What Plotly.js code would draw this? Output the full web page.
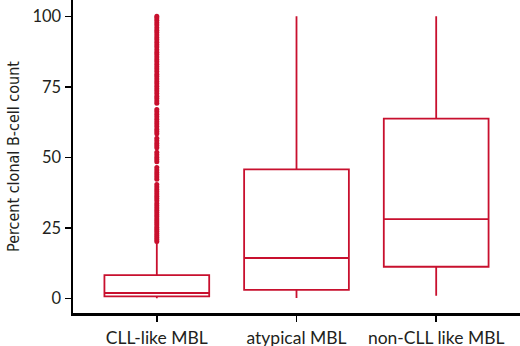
<!DOCTYPE html>
<html>
<head>
<meta charset="utf-8">
<script src="https://cdn.plot.ly/plotly-3.0.1.min.js"></script>
<style>
  html, body { margin: 0; padding: 0; background: #fff; }
  #chart { width: 520px; height: 346px; }
</style>
</head>
<body>
<div id="chart"></div>
<script>
// Groups of monoclonal B-cell lymphocytosis
const categories = ["CLL-like MBL", "atypical MBL", "non-CLL like MBL"];

// Box summary statistics (percent clonal B-cell count)
const lowerFence = [0.0, 0.1, 0.9];
const q1Values = [0.7, 3.0, 11.2];
const medianValues = [1.9, 14.3, 28.1];
const q3Values = [8.2, 45.7, 63.7];
const upperFence = [19.8, 100, 100];

// Outlying observations in the CLL-like MBL group
const cllOutliers = [
  20.2, 20.9, 21.6, 22.3, 23.0, 23.8, 24.5, 25.2, 26.0, 26.7, 27.4, 28.1,
  28.9, 29.6, 30.4, 31.2, 32.0, 32.8, 33.6, 34.6, 35.4, 36.2, 37.0, 37.8,
  38.6, 39.5, 40.4, 42.2, 43.0, 43.8, 44.6, 45.5, 46.4, 48.4, 49.2, 50.0,
  50.9, 51.8, 53.4, 54.2, 55.0, 55.9, 56.8, 58.4, 59.2, 60.0, 60.9, 61.8,
  62.6, 63.5, 64.4, 65.3, 66.2, 67.0, 69.2, 70.0, 70.9, 71.7, 72.6, 73.5,
  74.3, 75.2, 76.1, 76.9, 77.8, 78.7, 79.5, 80.4, 81.3, 82.1, 83.0, 83.9,
  84.7, 85.6, 86.5, 87.3, 88.2, 89.1, 89.9, 90.8, 91.7, 92.5, 93.4, 94.3,
  95.1, 96.0, 96.9, 97.7, 98.6, 99.4, 100.0
];

const red = "#c8102e";
const textColor = "#231f20";
const fontFamily = "Lato, 'Open Sans', sans-serif";
const narrowFamily = "'Liberation Sans Narrow', 'DejaVu Sans Condensed', sans-serif";

const boxTrace = {
  type: "box",
  x: categories,
  q1: q1Values,
  median: medianValues,
  q3: q3Values,
  lowerfence: lowerFence,
  upperfence: upperFence,
  boxpoints: false,
  width: 0.75,
  whiskerwidth: 0,
  line: { color: red, width: 1.8 },
  fillcolor: "rgba(255,255,255,0)",
  hoverinfo: "skip",
  showlegend: false
};

const outlierTrace = {
  type: "scatter",
  mode: "markers",
  x: cllOutliers.map(() => categories[0]),
  y: cllOutliers,
  marker: { color: red, size: 5 },
  hoverinfo: "skip",
  showlegend: false
};

const layout = {
  width: 520,
  height: 346,
  margin: { l: 73, r: 0, t: 0, b: 33 },
  paper_bgcolor: "#ffffff",
  plot_bgcolor: "#ffffff",
  font: { family: fontFamily, color: textColor, size: 16 },
  showlegend: false,
  xaxis: {
    type: "category",
    categoryorder: "array",
    categoryarray: categories,
    range: [-0.6, 2.6],
    showline: true,
    linecolor: "#000",
    linewidth: 2.5,
    ticks: "outside",
    ticklen: 6,
    tickwidth: 1.5,
    tickcolor: "#000",
    ticklabelstandoff: 1,
    showgrid: false,
    zeroline: false,
    tickfont: { size: 17.5, color: textColor, family: fontFamily }
  },
  yaxis: {
    range: [-5.2, 105.8],
    tickvals: [0, 25, 50, 75, 100],
    ticktext: ["0", "25", "50", "75", "100"],
    showline: true,
    linecolor: "#000",
    linewidth: 2.5,
    ticks: "outside",
    ticklen: 6,
    tickwidth: 1.5,
    tickcolor: "#000",
    showgrid: false,
    zeroline: false,
    tickfont: { size: 16.5, color: textColor, family: fontFamily },
    title: {
      text: "Percent clonal B-cell count",
      font: { size: 16, color: textColor, family: narrowFamily },
      standoff: 9
    }
  }
};

Plotly.newPlot("chart", [boxTrace, outlierTrace], layout, { staticPlot: true, displayModeBar: false });
</script>
</body>
</html>
